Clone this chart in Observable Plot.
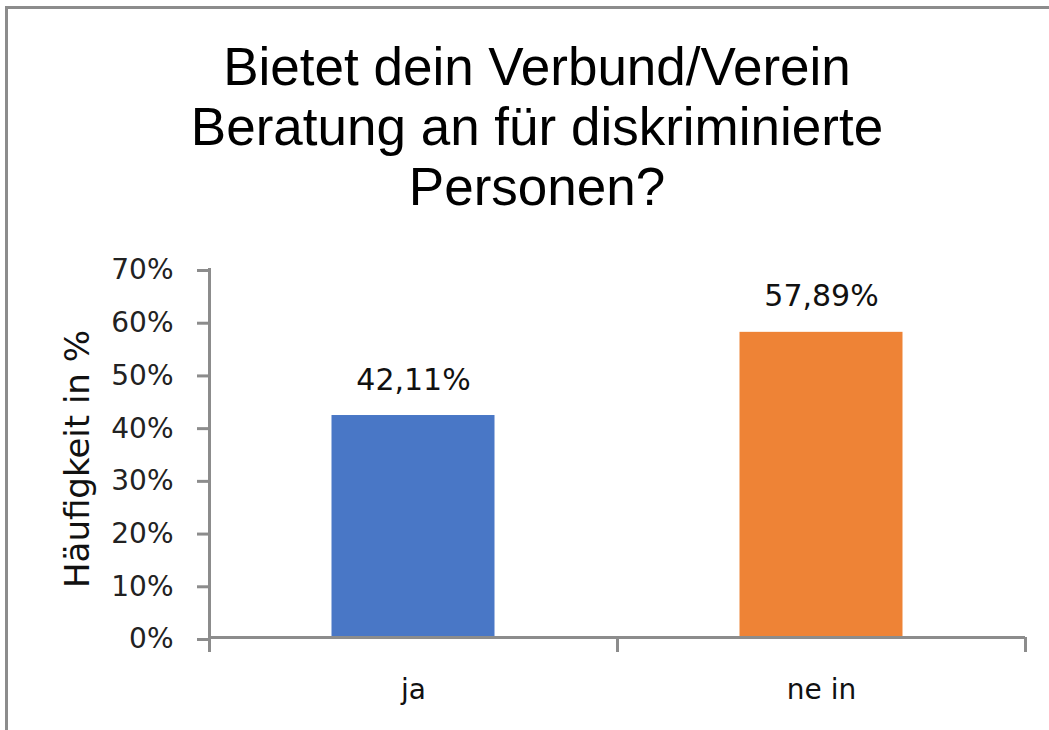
<!DOCTYPE html>
<html><head><meta charset="utf-8">
<script src="https://cdn.jsdelivr.net/npm/d3@7"></script>
<script src="https://cdn.jsdelivr.net/npm/@observablehq/plot@0.6"></script>
<style>
body{margin:0;background:#fff;}
#wrap{position:relative;width:1049px;height:730px;overflow:hidden;background:#fff;}
.bt{position:absolute;left:5px;top:6px;right:0;height:3px;background:#8c8c8c;}
.bl{position:absolute;left:5px;top:6px;bottom:0;width:3px;background:#8c8c8c;}
#chart{position:absolute;left:0;top:0;}
#title{position:absolute;left:0;width:1074px;top:37px;text-align:center;font-family:"Liberation Sans",Arial,sans-serif;font-size:53px;line-height:60px;color:#000;white-space:nowrap;}
#ylab{position:absolute;left:77px;top:459px;transform:translate(-50%,-50%) rotate(-90deg);font-family:"DejaVu Sans",sans-serif;font-size:34px;line-height:34px;color:#111;white-space:nowrap;}
</style></head>
<body>
<div id="wrap">
  <div class="bt"></div><div class="bl"></div>
  <div id="chart"></div>
  <div id="title"></div>
  <div id="ylab"></div>
</div>
<script>
const titleLines = ["Bietet dein Verbund/Verein", "Beratung an für diskriminierte", "Personen?"];
const yLabel = "Häufigkeit in %";
const categories = ["ja", "ne in"];
const values = [0.4211, 0.5789];
const colors = ["#4977c6", "#ee8336"];
const yTicks = [0, 0.1, 0.2, 0.3, 0.4, 0.5, 0.6, 0.7];

document.getElementById("title").innerHTML = titleLines.join("<br>");
document.getElementById("ylab").textContent = yLabel;

const data = categories.map((c, i) => ({i, c, v: values[i], color: colors[i]}));
const fmt = d3.formatLocale({decimal: ",", thousands: ".", grouping: [3], currency: ["", "€"]}).format(".2%");
const gray = "#8c8c8c";

const chart = Plot.plot({
  width: 1049, height: 730,
  marginLeft: 209, marginRight: 24, marginTop: 268, marginBottom: 93,
  style: {background: "transparent", fontFamily: "DejaVu Sans, sans-serif", fontSize: "28px", color: "#222", overflow: "visible"},
  x: {type: "linear", domain: [0, categories.length], axis: null, label: null},
  y: {domain: [0, 0.7], axis: null, label: null},
  color: {type: "identity"},
  marks: [
    Plot.rectY(data, {x1: d => d.i, x2: d => d.i + 1, y1: 0, y2: "v", fill: "color", insetLeft: 122.5, insetRight: 122.5}),
    Plot.ruleY([0], {stroke: gray, strokeWidth: 3}),
    Plot.ruleX([0], {y1: 0, y2: 0.7, stroke: gray, strokeWidth: 3}),
    Plot.axisY(yTicks, {label: null, tickSize: 12, tickPadding: 24, tickFormat: d => Math.round(d * 100) + "%", stroke: gray, strokeWidth: 3, fontSize: 28, fill: "#222", dy: 2}),
    Plot.axisX(d3.range(categories.length + 1), {label: null, tickSize: 15, tickFormat: () => "", stroke: gray, strokeWidth: 3}),
    Plot.text(data, {x: d => d.i + 0.5, y: "v", text: d => fmt(d.v), dy: -26, lineAnchor: "bottom", fontSize: 30, fill: "#111"}),
    Plot.text(data, {x: d => d.i + 0.5, y: () => 0, text: "c", dy: 61, lineAnchor: "bottom", fontSize: 28, fill: "#111"})
  ]
});
document.getElementById("chart").appendChild(chart);
</script>
</body></html>
